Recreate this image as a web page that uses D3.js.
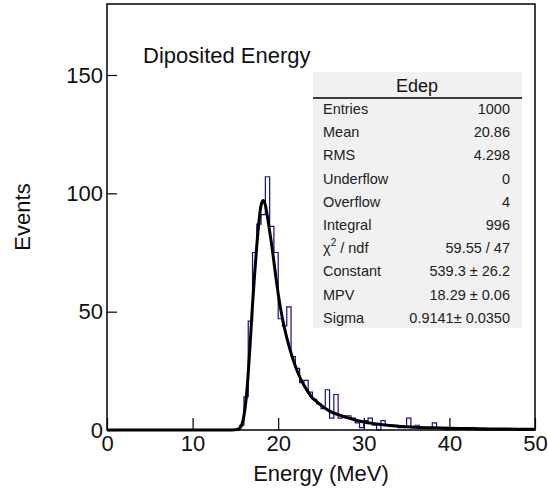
<!DOCTYPE html>
<html>
<head>
<meta charset="utf-8">
<script src="https://cdn.jsdelivr.net/npm/d3@7"></script>
<style>
  body { margin: 0; background: #fff; }
  svg { font-family: "Liberation Sans", Arial, sans-serif; }
</style>
</head>
<body>
<script>
// histogram Edep: 100 bins of 0.5 MeV from 0 to 50
const binLow = d3.range(0, 50, 0.5);
const counts = [
  0,0,0,0,0,0,0,0,0,0, 0,0,0,0,0,0,0,0,0,0, 0,0,0,0,0,0,0,0,0,0, 0,
  2, 14, 46, 75, 87, 91, 107, 86, 75,
  47, 44, 52, 31, 26, 20, 21, 16, 13, 11,
  9, 17, 5, 15, 5, 6, 6, 5, 3, 1,
  4, 5, 2, 0, 4, 2, 2, 2, 1, 1,
  5, 1, 2, 1, 1, 1, 3, 1, 1, 0,
  1, 0, 1, 1, 0, 1,
  0,0,0,0,0,0,0,0,0,0,0,0,0,0
];

// landau fit curve
const fitX = [0, 14, 15, 15.5, 15.75, 16, 16.25, 16.5, 16.75, 17, 17.25, 17.5, 17.75, 18, 18.25,
  18.5, 18.75, 19, 19.25, 19.5, 19.75, 20, 20.5, 21, 21.5, 22, 22.5, 23, 23.5, 24, 24.5, 25,
  26, 27, 28, 29, 30, 31, 32, 33, 34, 35, 36, 38, 40, 42, 45, 50];
const fitY = [0, 0, 0.1, 0.8, 2.2, 6, 13, 24, 38, 53, 66, 78, 88, 95, 97,
  95, 90, 84, 78, 71, 64, 57.5, 47, 39, 32.5, 27, 22.5, 19, 16, 13.5, 12, 10.5,
  8, 6.5, 5.3, 4.2, 3.4, 2.8, 2.3, 1.9, 1.6, 1.35, 1.15, 0.9, 0.75, 0.6, 0.45, 0.3];

const xTicks = [0, 10, 20, 30, 40, 50];
const yTicks = [0, 50, 100, 150];

const statLabels = ["Entries", "Mean", "RMS", "Underflow", "Overflow", "Integral", "chi2", "Constant", "MPV", "Sigma"];
const statValues = ["1000", "20.86", "4.298", "0", "4", "996", "59.55 / 47", "539.3 \u00b1 26.2", "18.29 \u00b1 0.06", "0.9141\u00b1 0.0350"];

const width = 548, height = 498;
const frameL = 107, frameR = 535, frameT = 4, frameB = 430;

const x = d3.scaleLinear().domain([0, 50]).range([frameL, frameR]);
const y = d3.scaleLinear().domain([0, 180]).range([frameB, frameT]);

const svg = d3.select("body").append("svg")
    .attr("width", width)
    .attr("height", height);

// histogram outline
const pts = [[0, 0]];
binLow.forEach((b, i) => { pts.push([b, counts[i]], [b + 0.5, counts[i]]); });
pts.push([50, 0]);

svg.append("path")
    .datum(pts)
    .attr("fill", "none")
    .attr("stroke", "#10108f")
    .attr("stroke-width", 1.2)
    .attr("d", d3.line().x(d => x(d[0])).y(d => y(d[1])));

// fit
svg.append("path")
    .datum(fitX.map((v, i) => [v, fitY[i]]))
    .attr("fill", "none")
    .attr("stroke", "#000")
    .attr("stroke-width", 3)
    .attr("stroke-linejoin", "round")
    .attr("d", d3.line().x(d => x(d[0])).y(d => y(d[1])).curve(d3.curveMonotoneX));

// axes
svg.append("g")
    .attr("transform", `translate(0,${frameB})`)
    .call(d3.axisBottom(x).tickValues(xTicks).tickSizeInner(-12).tickSizeOuter(0).tickPadding(5))
    .call(g => g.select(".domain").remove())
    .call(g => g.selectAll("line").attr("stroke-width", 1.2))
    .call(g => g.selectAll("text").attr("font-size", 22).attr("font-family", "Liberation Sans").attr("fill", "#111"));

svg.append("g")
    .attr("transform", `translate(${frameL},0)`)
    .call(d3.axisLeft(y).tickValues(yTicks).tickSizeInner(-10).tickSizeOuter(0).tickPadding(4))
    .call(g => g.select(".domain").remove())
    .call(g => g.selectAll("line").attr("stroke-width", 1.2))
    .call(g => g.selectAll("text").attr("font-size", 22).attr("font-family", "Liberation Sans").attr("fill", "#111"));

svg.append("rect")
    .attr("x", frameL).attr("y", frameT)
    .attr("width", frameR - frameL).attr("height", frameB - frameT)
    .attr("fill", "none")
    .attr("stroke", "#000")
    .attr("stroke-width", 1.5);

svg.append("text")
    .attr("x", (frameL + frameR) / 2)
    .attr("y", 481)
    .attr("text-anchor", "middle")
    .attr("font-size", 22)
    .attr("fill", "#111")
    .text("Energy (MeV)");

svg.append("text")
    .attr("transform", `translate(30,${(frameT + frameB) / 2}) rotate(-90)`)
    .attr("text-anchor", "middle")
    .attr("font-size", 22)
    .attr("fill", "#111")
    .text("Events");

svg.append("text")
    .attr("x", 143)
    .attr("y", 63)
    .attr("font-size", 22)
    .attr("fill", "#111")
    .text("Diposited Energy");

// stats box
const box = svg.append("g");
box.append("rect")
    .attr("x", 313).attr("y", 72)
    .attr("width", 209).attr("height", 256)
    .attr("fill", "#f1f1f1");
box.append("line")
    .attr("x1", 313).attr("x2", 522)
    .attr("y1", 98).attr("y2", 98)
    .attr("stroke", "#000").attr("stroke-width", 1.5);
box.append("text")
    .attr("x", 417).attr("y", 92)
    .attr("text-anchor", "middle")
    .attr("font-size", 18)
    .attr("fill", "#111")
    .text("Edep");

statLabels.forEach((l, i) => {
  const yy = 114 + i * 23.2;
  const t = box.append("text").attr("x", 323).attr("y", yy).attr("font-size", 14.5).attr("fill", "#222");
  if (l === "chi2") {
    t.append("tspan").text("\u03c7");
    t.append("tspan").attr("font-size", 10).attr("dy", -7).text("2");
    t.append("tspan").attr("dy", 7).text(" / ndf");
  } else {
    t.text(l);
  }
  box.append("text")
      .attr("x", 510).attr("y", yy)
      .attr("text-anchor", "end")
      .attr("font-size", 14.5)
      .attr("fill", "#222")
      .text(statValues[i]);
});
</script>
</body>
</html>
